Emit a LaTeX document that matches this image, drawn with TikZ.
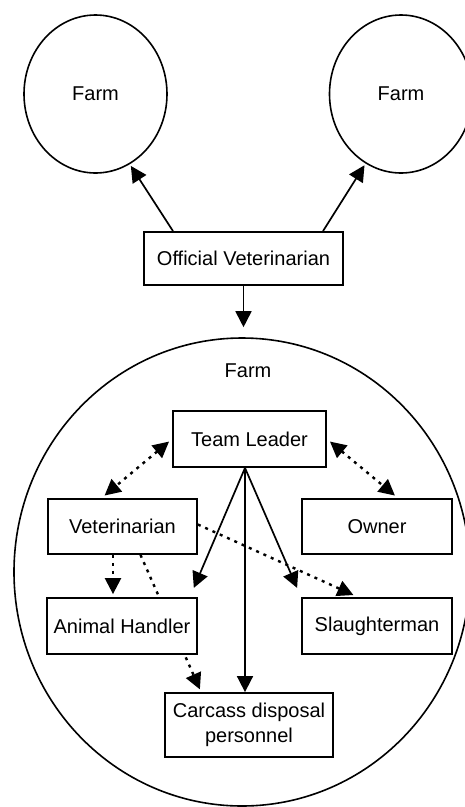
\documentclass[tikz,border=0pt]{standalone}
\usepackage{fontspec}
\setmainfont{Liberation Sans}
\usetikzlibrary{arrows.meta,shapes.geometric,backgrounds}
\begin{document}
\begin{tikzpicture}[x=1pt,y=-1pt,
  every node/.style={font=\fontsize{20}{25}\selectfont},
  box/.style={draw,line width=1.8pt,fill=white,inner sep=0pt,align=center},
  farmring/.style={draw,ellipse,line width=1.6pt,inner sep=0pt},
  tip/.style={-{Triangle[length=16pt,width=16pt]}},
  twotips/.style={{Triangle[length=16pt,width=16pt]}-{Triangle[length=16pt,width=16pt]}},
  link/.style={line width=1.7pt,tip},
  dotlink/.style={line width=2.4pt,dash pattern=on 3pt off 5pt}
]
\useasboundingbox (0,0) rectangle (464,807);

% the two neighbouring farms
\node[farmring,minimum width=143pt,minimum height=158pt] (farmL) at (95.5,94) {Farm};
\node[farmring,minimum width=143pt,minimum height=158pt] (farmR) at (401,94) {Farm};

% the infected farm
\node[farmring,minimum width=456pt,minimum height=468pt] (farmC) at (242,572) {};
\node (farmlabel) at (248,371) {Farm};

% people
\node[box,minimum width=199pt,minimum height=53pt] (ov) at (243.5,258.5) {Official Veterinarian};
\node[box,minimum width=153pt,minimum height=56pt] (tl) at (249.5,439) {Team Leader};
\node[box,minimum width=149pt,minimum height=55pt] (vet) at (122.5,526.5) {Veterinarian};
\node[box,minimum width=150pt,minimum height=55pt] (own) at (377,526.5) {Owner};
\node[box,minimum width=150pt,minimum height=56pt] (ah) at (122,626) {Animal Handler};
\node[box,minimum width=150pt,minimum height=56pt] (sl) at (377,626) {Slaughterman};
\node[box,minimum width=168pt,minimum height=64pt] (carc) at (249,725) {Carcass disposal\\personnel};

% official veterinarian links
\draw[link,shorten >=2pt] ([xshift=-70.5pt]ov.north) -- (farmL.-64);
\draw[link,shorten >=2pt] ([xshift=79.5pt]ov.north) -- (farmR.-117);
\draw[link,shorten >=10pt] (ov.south) -- (ov.south |- farmC.north);

% team leader instructions
\coordinate (tlfoot) at ([xshift=-4.5pt]tl.south);
\draw[link,shorten >=10pt] (tlfoot) -- ([xshift=-8pt]ah.north east);
\draw[link] (tlfoot) -- ([xshift=-4pt]carc.north);
\draw[link,shorten >=10pt] (tlfoot) -- (sl.north west);

% dotted liaison lines
\draw[dotlink,twotips,shorten <=4pt,shorten >=4pt] (tl.west) -- ([xshift=-21pt]vet.north);
\draw[dotlink,twotips,shorten <=4pt,shorten >=4pt] (tl.east) -- ([xshift=21pt]own.north);
\draw[dotlink,tip,shorten >=3pt] ([xshift=-9.5pt]vet.south) -- ([xshift=-9pt]ah.north);
\draw[dotlink,tip,shorten >=5pt] ([yshift=2pt]vet.east) -- ([xshift=-19pt]sl.north);
\begin{pgfonlayer}{background}
\draw[dotlink,tip,shorten >=3pt] ([xshift=18pt]vet.south) -- ([xshift=37pt]carc.north west);
\end{pgfonlayer}
\end{tikzpicture}
\end{document}
